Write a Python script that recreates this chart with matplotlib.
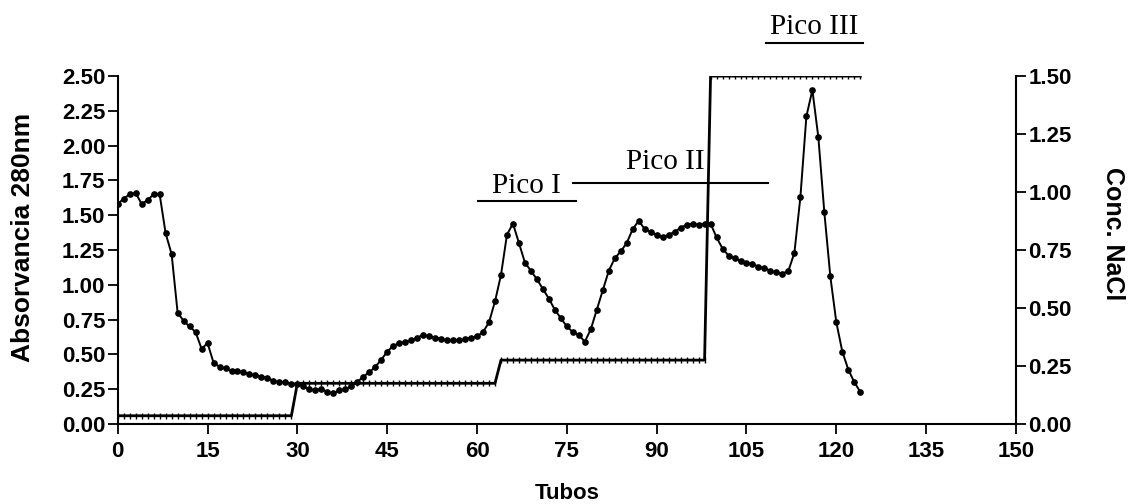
import numpy as np
import matplotlib
matplotlib.use("Agg")
import matplotlib.pyplot as plt

# ------------------------------------------------------------
# Data (one point per tube)
# ------------------------------------------------------------
tubos = list(range(0, 125))

absorbancia = [
    1.58, 1.62, 1.65, 1.66, 1.58, 1.61, 1.65, 1.65, 1.37, 1.22,   # 0-9
    0.80, 0.74, 0.70, 0.66, 0.54, 0.58, 0.44, 0.41, 0.40, 0.38,   # 10-19
    0.38, 0.37, 0.36, 0.35, 0.34, 0.33, 0.31, 0.30, 0.30, 0.29,   # 20-29
    0.29, 0.27, 0.25, 0.24, 0.25, 0.23, 0.22, 0.24, 0.25, 0.27,   # 30-39
    0.30, 0.34, 0.37, 0.41, 0.46, 0.52, 0.56, 0.58, 0.59, 0.60,   # 40-49
    0.62, 0.64, 0.63, 0.62, 0.61, 0.60, 0.60, 0.60, 0.61, 0.62,   # 50-59
    0.63, 0.66, 0.73, 0.88, 1.07, 1.36, 1.44, 1.30, 1.16, 1.10,   # 60-69
    1.04, 0.97, 0.90, 0.82, 0.76, 0.70, 0.66, 0.64, 0.59, 0.68,   # 70-79
    0.82, 0.96, 1.10, 1.19, 1.24, 1.30, 1.40, 1.46, 1.40, 1.38,   # 80-89
    1.36, 1.34, 1.36, 1.38, 1.41, 1.43, 1.44, 1.43, 1.44, 1.44,   # 90-99
    1.34, 1.26, 1.21, 1.19, 1.17, 1.16, 1.15, 1.13, 1.12, 1.10,   # 100-109
    1.09, 1.08, 1.10, 1.23, 1.63, 2.21, 2.40, 2.06, 1.52, 1.06,   # 110-119
    0.73, 0.52, 0.39, 0.30, 0.23,                                 # 120-124
]

# NaCl step gradient
nacl = [0.035] * 30 + [0.175] * 34 + [0.275] * 35 + [1.50] * 26

# peak annotations: (label, text x, baseline y, line x0, line x1, line y)
picos = [
    ("Pico I", 68.3, 1.66, 60.1, 76.5, 1.60),
    ("Pico II", 91.4, 1.83, 76.0, 108.6, 1.73),
    ("Pico III", 116.3, 2.80, 108.2, 124.4, 2.735),
]

x_ticks = list(range(0, 151, 15))
y_ticks_abs = [0.0, 0.25, 0.5, 0.75, 1.0, 1.25, 1.5, 1.75, 2.0, 2.25, 2.5]
y_ticks_nacl = [0.0, 0.25, 0.5, 0.75, 1.0, 1.25, 1.5]

# ------------------------------------------------------------
# Figure
# ------------------------------------------------------------
plt.rcParams['font.family'] = ['Liberation Sans', 'DejaVu Sans']
fig = plt.figure(figsize=(11.32, 5.04), dpi=100)
ax = fig.add_axes([0.104, 0.159, 0.7935, 0.690])
ax2 = ax.twinx()

ax.plot(tubos, absorbancia, color='black', lw=1.4, marker='o',
        markersize=3.8, zorder=3)
ax2.plot(tubos, nacl, color='black', lw=2.0, marker='|',
         markersize=4, markeredgewidth=1.0, zorder=2)

ax.set_xlim(0, 150)
ax.set_ylim(0, 2.5)
ax2.set_ylim(0, 1.5)
ax.set_xticks(x_ticks)
ax.set_yticks(y_ticks_abs)
ax2.set_yticks(y_ticks_nacl)
ax.set_yticklabels(['%.2f' % v for v in y_ticks_abs])
ax2.set_yticklabels(['%.2f' % v for v in y_ticks_nacl])

for a in (ax, ax2):
    a.spines['top'].set_visible(False)
    for s in a.spines.values():
        s.set_linewidth(1.5)
    a.tick_params(direction='out', length=7, width=1.3, pad=2,
                  labelsize=16, colors='black')
    for lab in a.get_xticklabels() + a.get_yticklabels():
        lab.set_fontweight('bold')
ax.tick_params(axis='x', pad=5)
ax.spines['right'].set_visible(False)
ax2.spines['left'].set_visible(False)
ax2.spines['bottom'].set_visible(False)

ax.set_xlabel('Tubos', fontsize=16, fontweight='bold')
ax.xaxis.set_label_coords(0.5, -0.17)
ax.set_ylabel('Absorvancia 280nm', fontsize=19, fontweight='bold')
ax.yaxis.set_label_coords(-0.092, 0.537)
ax2.set_ylabel('Conc. NaCl', fontsize=18, fontweight='bold', rotation=270)
ax2.yaxis.set_label_coords(1.121, 0.548)

for nome, tx, ty, x0, x1, ly in picos:
    ax.text(tx, ty, nome, ha='center', va='baseline', fontsize=21,
            family='Liberation Serif', clip_on=False)
    ax.plot([x0, x1], [ly, ly], color='black', lw=1.5, clip_on=False)

fig.savefig('out.png', dpi=100)
